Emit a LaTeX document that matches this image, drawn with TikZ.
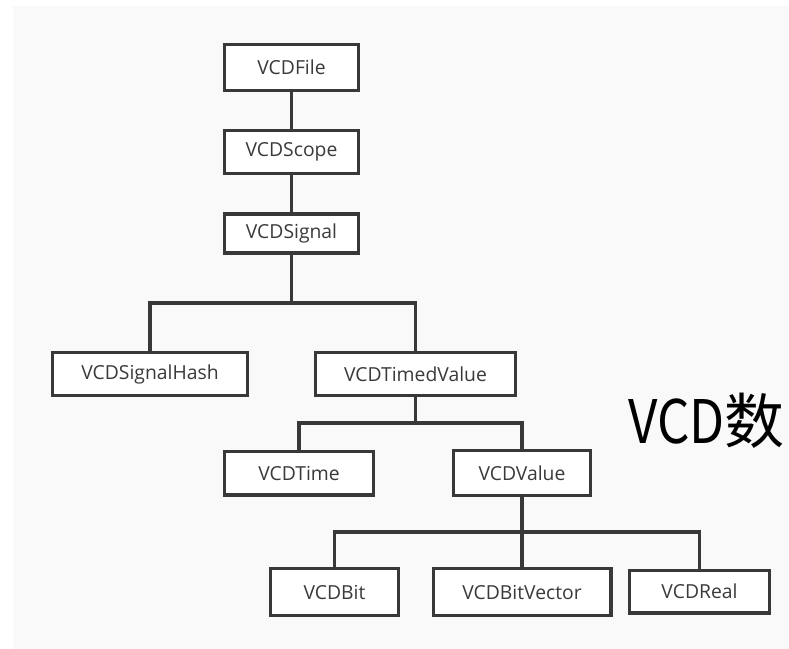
\documentclass[tikz,border=0pt]{standalone}
\usepackage{fontspec}
\setmainfont{Open Sans}
\newfontfamily\cjkfont{Noto Sans CJK SC}
\definecolor{linegray}{HTML}{383838}
\definecolor{textgray}{HTML}{3A3A3A}
\definecolor{bggray}{HTML}{F9F9F9}
\begin{document}
\begin{tikzpicture}[x=0.75pt,y=-0.75pt,
  cls/.style={draw=linegray, line width=2.3pt, fill=white, text=textgray,
    font=\fontsize{14.5}{16}\selectfont, inner sep=0pt},
  sz/.style 2 args={minimum width=#1*0.75pt-2.3pt, minimum height=#2*0.75pt-2.3pt},
  link/.style={draw=linegray, line width=2.3pt}]

% canvas
\useasboundingbox (0,0) rectangle (789,649);
\fill[white] (0,0) rectangle (789,649);
\fill[bggray] (13,6) rectangle (789,649);

% class boxes
\node[cls, sz={137}{49}] (file)   at (291.5,67.5) {VCDFile};
\node[cls, sz={137}{46}] (scope)  at (291.5,152)  {VCDScope};
\node[cls, sz={137}{42}] (signal) at (291.5,233.5) {VCDSignal};
\node[cls, sz={198}{46}] (hash)   at (150,374)    {VCDSignalHash};
\node[cls, sz={203}{46}] (timed)  at (415.5,374)  {VCDTimedValue};
\node[cls, sz={152}{47}] (time)   at (299,473)    {VCDTime};
\node[cls, sz={140}{48}] (value)  at (522,473)    {VCDValue};
\node[cls, sz={131}{50}] (bit)    at (334.5,592)  {VCDBit};
\node[cls, sz={181}{50}] (bitvec) at (522,592)    {VCDBitVector};
\node[cls, sz={143}{46}] (real)   at (699.5,591.5) {VCDReal};

% heading
\node[anchor=base west, inner sep=0pt, text=black,
  font=\cjkfont\fontsize{45}{50}\selectfont] (title) at (628,443)
  {\scalebox{0.85}[1]{VCD}数};

% branch points
\coordinate (j1) at (291.5,303);
\coordinate (j2) at (415.5,423);
\coordinate (j3) at (522,532);

% connectors
\draw[link] (file.south) -- (scope.north);
\draw[link] (scope.south) -- (signal.north);
\draw[link] (signal.south) -- (j1);
\draw[link] (hash.north) |- (j1) -| (timed.north);
\draw[link] (timed.south) -- (j2);
\draw[link] (time.north) |- (j2) -| (value.north);
\draw[link] (value.south) -- (bitvec.north);
\draw[link] (bit.north) |- (j3) -| (real.north);
\end{tikzpicture}
\end{document}
